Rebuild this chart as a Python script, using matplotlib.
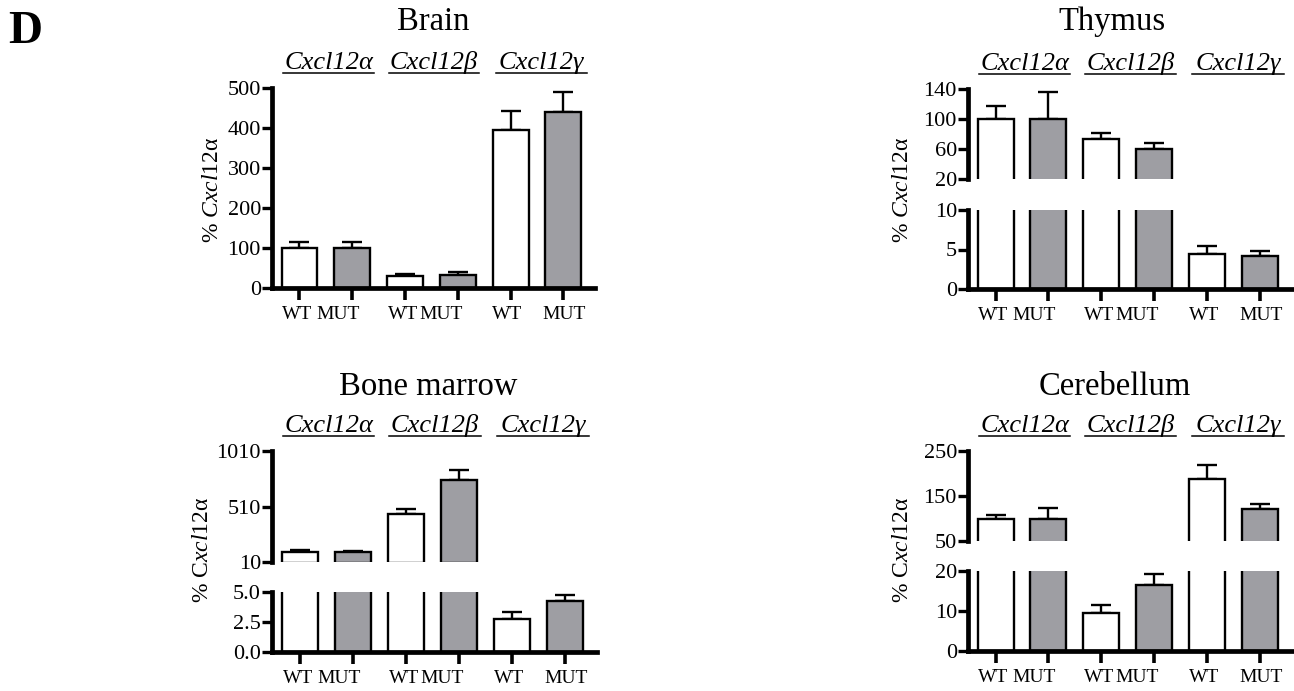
import matplotlib
matplotlib.use('Agg')
import matplotlib.pyplot as plt
from matplotlib import transforms
import numpy as np

plt.rcParams['font.family'] = ['Liberation Serif', 'DejaVu Serif']
plt.rcParams['mathtext.fontset'] = 'custom'
plt.rcParams['mathtext.rm'] = 'Liberation Serif'
plt.rcParams['mathtext.it'] = 'Liberation Serif:italic'

W, H = 1294, 691

# ---------------- data ----------------
groups = ['Cxcl12α', 'Cxcl12β', 'Cxcl12γ']
genotypes = ['WT', 'MUT', 'WT', 'MUT', 'WT', 'MUT']

brain_mean = [100, 100, 30, 32, 395, 440]
brain_err = [16, 15, 5, 7, 48, 49]

thymus_mean = [100, 100, 73, 60, 4.4, 4.2]
thymus_err = [18, 36, 9, 8, 1.0, 0.6]

bm_mean = [100, 100, 439, 745, 2.72, 4.22]
bm_err = [20, 10, 48, 90, 0.61, 0.56]

cereb_mean = [100, 100, 9.6, 16.4, 188, 122]
cereb_err = [8, 23, 2.0, 2.9, 30, 10]

# ---------------- style ----------------
GRAY = '#9e9ea3'
SPINE_LW = 3.4
EDGE_LW = 1.7
XTICK_FS = 14
YTICK_FS = 16
YLABEL_FS = 17
SUB_FS = 19
TITLE_FS = 23.5
XLIM = (-0.52, 5.6)
label_dx_px = [-2, -14, -2, -17, -3, 1]

fig = plt.figure(figsize=(W / 100, H / 100), dpi=100)


def rect(x0, x1, y0, y1):
    return [x0 / W, (H - y1) / H, (x1 - x0) / W, (y1 - y0) / H]


def draw_bars(ax, mean, err, lim):
    mean = np.asarray(mean, dtype=float)
    err = np.asarray(err, dtype=float)
    x = np.arange(len(mean))
    colors = np.array(['white', GRAY] * 3)
    show = mean > lim[0]
    ax.bar(x[show], mean[show], width=0.68, color=colors[show],
           edgecolor='black', linewidth=EDGE_LW, zorder=2)
    vis = (mean >= lim[0]) & (mean <= lim[1])
    if vis.any():
        ax.errorbar(x[vis], mean[vis], yerr=[np.zeros(vis.sum()), err[vis]],
                    fmt='none', ecolor='black', elinewidth=EDGE_LW, capsize=7,
                    capthick=EDGE_LW, zorder=1)
    ax.set_xlim(*XLIM)
    ax.set_ylim(*lim)


def style_axis(ax, bottom=True):
    for s in ['top', 'right']:
        ax.spines[s].set_visible(False)
    ax.spines['left'].set_linewidth(SPINE_LW)
    ax.spines['bottom'].set_linewidth(SPINE_LW)
    ax.tick_params(axis='y', length=7.5, width=2.4, labelsize=YTICK_FS,
                   pad=0.5, direction='out')
    ax.set_facecolor('none')
    if bottom:
        ax.set_xticks(np.arange(6))
        ax.set_xticklabels(genotypes)
        ax.tick_params(axis='x', length=8.6, width=2.6,
                       labelsize=XTICK_FS, pad=4.5)
        for lab, dx in zip(ax.get_xticklabels(), label_dx_px):
            lab.set_transform(lab.get_transform() + transforms.ScaledTranslation(
                dx / 100, 0, fig.dpi_scale_trans))
    else:
        ax.spines['bottom'].set_visible(False)
        ax.set_xticks([])


def subheaders(ax):
    base = transforms.blended_transform_factory(ax.transData, ax.transAxes)
    line_t = transforms.offset_copy(base, fig=fig, y=15 * 0.72, units='points')
    text_t = transforms.offset_copy(base, fig=fig, y=19 * 0.72, units='points')
    for c, g in zip([0.55, 2.55, 4.58], groups):
        ax.plot([c - 0.86, c + 0.86], [1, 1], color='black', lw=1.1,
                transform=line_t, clip_on=False)
        ax.text(c, 1, g, transform=text_t, ha='center', va='baseline',
                fontsize=SUB_FS, style='italic')


def single_panel(r, mean, err, yticks, ylim):
    ax = fig.add_axes(rect(*r))
    draw_bars(ax, mean, err, ylim)
    ax.set_yticks(yticks)
    style_axis(ax, bottom=True)
    subheaders(ax)
    return ax


def broken_panel(x0, x1, top_y, bot_y, mean, err, top_ticks, top_lim,
                 bot_ticks, bot_lim, fmt=None):
    axt = fig.add_axes(rect(x0, x1, *top_y))
    axb = fig.add_axes(rect(x0, x1, *bot_y))
    for ax, ticks, lim in [(axt, top_ticks, top_lim), (axb, bot_ticks, bot_lim)]:
        draw_bars(ax, mean, err, lim)
        ax.set_yticks(ticks)
    style_axis(axt, bottom=False)
    style_axis(axb, bottom=True)
    if fmt:
        axb.set_yticklabels([fmt.format(t) for t in bot_ticks])
    subheaders(axt)
    return axt, axb


# Brain
single_panel((272, 595, 88, 288), brain_mean, brain_err,
             [0, 100, 200, 300, 400, 500], (0, 500))
# Thymus
broken_panel(968, 1292, (89, 179), (210, 289), thymus_mean, thymus_err,
             [20, 60, 100, 140], (20, 140), [0, 5, 10], (0, 10))
# Bone marrow
broken_panel(272, 597, (451, 562), (592, 652), bm_mean, bm_err,
             [10, 510, 1010], (10, 1010), [0.0, 2.5, 5.0], (0, 5),
             fmt='{:.1f}')
# Cerebellum
broken_panel(968, 1292, (451, 541), (571, 651), cereb_mean, cereb_err,
             [50, 150, 250], (50, 250), [0, 10, 20], (0, 20))

# Titles
for x, y, t in [(433, 30, 'Brain'), (1112, 30, 'Thymus'),
                (428, 395, 'Bone marrow'), (1115, 395, 'Cerebellum')]:
    fig.text(x / W, 1 - y / H, t, ha='center', va='baseline', fontsize=TITLE_FS)

# Y labels
ylab_it = r'% $\it{Cxcl12}$α'
ylab_mix = r'% C$\it{xcl}$12α'
for x, y, t in [(212, 190, ylab_it), (903, 190, ylab_it),
                (202, 550, ylab_mix), (903, 550, ylab_mix)]:
    fig.text(x / W, 1 - y / H, t, rotation=90, ha='center', va='center',
             fontsize=YLABEL_FS)

# Panel letter
fig.text(8 / W, 1 - 43 / H, 'D', fontsize=34, fontweight='bold',
         va='baseline', ha='left')

fig.savefig('out.png', dpi=100)
